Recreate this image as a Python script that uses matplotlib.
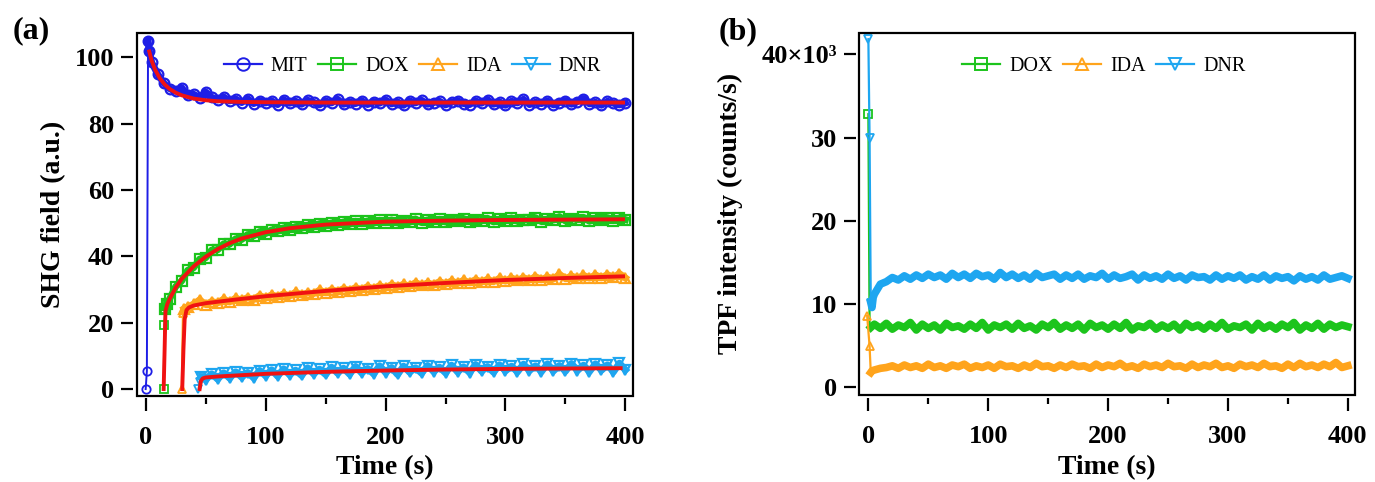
"""SHG field and TPF intensity time traces for MIT, DOX, IDA and DNR."""

import matplotlib

matplotlib.use("Agg")
import matplotlib.pyplot as plt
from matplotlib.lines import Line2D
from matplotlib.patches import Rectangle

plt.rcParams["font.family"] = ["Liberation Serif", "DejaVu Serif"]

# ---------------- panel (a): SHG field (a.u.) ----------------
mit_t = [0, 1, 2, 3] + list(range(5, 401, 5))
mit_y = [0, 5.5, 105.0, 102.0,
         98.5, 95.0, 92.3, 90.6, 89.8, 90.9, 88.6, 88.9, 87.9, 89.6,
         88.0, 87.2, 88.1, 86.9, 87.5, 86.4, 87.6, 86.1, 87.0, 86.3,
         86.9, 85.8, 87.3, 86.2, 86.8, 85.9, 87.1, 86.5, 85.7, 86.9,
         86.3, 87.4, 85.9, 86.6, 86.1, 87.0, 85.8, 86.7, 86.2, 87.2,
         86.0, 86.6, 85.6, 86.9, 86.3, 87.1, 85.9, 86.4, 86.8, 85.7,
         86.5, 87.0, 86.1, 85.8, 86.9, 86.2, 87.3, 85.9, 86.6, 85.6,
         86.8, 86.3, 87.4, 85.8, 86.5, 86.1, 86.9, 85.7, 86.4, 87.0,
         85.9, 86.7, 87.6, 86.0, 86.5, 85.6, 86.8, 86.2, 85.7, 86.3]
mit_fit_t = [3, 5, 8, 12, 16, 20, 25, 30, 40, 50, 60, 80, 100, 150, 200, 300, 398]
mit_fit_y = [101.8, 99.0, 96.2, 93.6, 91.8, 90.5, 89.4, 88.6, 87.6, 87.1,
             86.8, 86.6, 86.5, 86.4, 86.4, 86.4, 86.4]

dox_t = [15, 15.5, 16.5, 18] + list(range(20, 401, 5))
dox_y = [0, 19.2, 24.3, 25.8,
         27.2, 30.9, 32.6, 35.8, 36.6, 39.2, 39.6, 41.9, 42.0, 43.8,
         43.7, 45.3, 45.1, 46.6, 46.2, 47.5, 46.9, 48.0, 47.6, 48.6,
         48.1, 49.0, 48.5, 49.4, 48.9, 49.9, 49.2, 50.1, 49.5, 50.4,
         49.7, 50.6, 49.9, 50.7, 50.0, 50.9, 50.2, 51.0, 50.1, 50.8,
         50.3, 51.3, 50.2, 51.0, 50.5, 51.2, 50.4, 51.1, 50.6, 51.4,
         50.5, 51.0, 50.7, 51.5, 50.4, 51.2, 50.8, 51.6, 50.6, 51.1,
         50.9, 51.7, 50.5, 51.3, 51.0, 52.0, 50.7, 51.4, 51.1, 51.8,
         50.6, 51.5, 51.0, 51.7, 50.8, 51.6, 51.1]
dox_fit_t = [15, 15.8, 16.5, 18, 20, 25, 30, 40, 50, 60, 70, 80, 100, 120,
             150, 200, 250, 300, 398]
dox_fit_y = [0, 12.0, 23.5, 25.6, 27.2, 30.6, 33.2, 37.0, 39.9, 42.2, 44.0,
             45.4, 47.3, 48.5, 49.6, 50.5, 50.8, 51.0, 51.2]

ida_t = [30, 31, 32, 35] + list(range(40, 401, 5))
ida_y = [0, 23.0, 24.2, 24.8,
         25.6, 26.9, 25.5, 26.4, 26.0, 27.1, 26.3, 27.4, 26.8, 27.6,
         27.0, 28.2, 27.5, 28.4, 27.9, 28.7, 28.1, 29.2, 28.4, 29.0,
         28.8, 29.8, 29.1, 30.0, 29.4, 30.3, 29.7, 30.6, 30.0, 30.9,
         30.2, 31.2, 30.5, 31.5, 30.9, 31.6, 31.0, 32.1, 31.3, 32.0,
         31.5, 32.4, 31.7, 32.6, 31.9, 32.8, 32.1, 33.0, 32.3, 33.1,
         32.4, 33.4, 32.6, 33.5, 32.8, 33.6, 32.9, 33.9, 33.0, 33.8,
         33.2, 34.6, 33.3, 34.1, 33.4, 34.3, 33.5, 34.4, 33.6, 34.5,
         33.7, 34.8, 33.5]
ida_fit_t = [30.5, 31.5, 32.5, 34, 36, 40, 50, 75, 100, 150, 200, 250, 300, 350, 398]
ida_fit_y = [0, 12.0, 21.0, 23.8, 24.6, 25.2, 25.9, 27.0, 28.0, 29.6, 31.0,
             32.0, 32.9, 33.5, 34.0]

dnr_t = [44, 45, 46] + list(range(50, 401, 5))
dnr_y = [0, 2.2, 3.5,
         2.8, 4.6, 3.0, 4.9, 3.3, 5.2, 3.6, 5.0, 3.4, 5.6,
         4.0, 5.8, 3.9, 6.1, 4.3, 5.7, 4.1, 6.4, 4.6, 6.0,
         4.4, 6.6, 4.8, 6.3, 4.5, 6.8, 4.9, 6.2, 4.6, 7.0,
         5.0, 6.5, 4.4, 6.9, 5.1, 6.4, 4.8, 7.1, 5.3, 6.6,
         4.9, 7.2, 5.2, 6.7, 5.0, 7.4, 5.4, 6.8, 5.1, 7.3,
         5.5, 6.9, 5.2, 7.5, 5.6, 7.0, 5.3, 7.6, 5.5, 7.1,
         5.4, 7.7, 5.6, 7.2, 5.3, 7.6, 5.7, 7.3, 5.2, 7.8,
         5.8]
dnr_fit_t = [45, 46, 47.5, 50, 60, 80, 100, 150, 200, 250, 300, 350, 396]
dnr_fit_y = [0, 2.4, 3.2, 3.5, 3.8, 4.2, 4.6, 5.2, 5.6, 5.9, 6.1, 6.2, 6.3]

# ---------------- panel (b): TPF intensity (x10^3 counts/s) ----------------
tpf_dox_t = [0, 1, 2] + list(range(5, 401, 5))
tpf_dox_y = [32.8, 7.8, 7.2,
             7.6, 7.1, 7.7, 7.0, 7.5, 7.2, 7.8, 6.9, 7.6, 7.1,
             7.5, 6.9, 7.7, 7.2, 7.4, 7.0, 7.6, 7.1, 7.8, 6.9,
             7.5, 7.2, 7.6, 7.0, 7.7, 7.1, 7.4, 6.9, 7.6, 7.2,
             7.8, 7.0, 7.5, 7.1, 7.6, 6.9, 7.7, 7.2, 7.5, 7.0,
             7.6, 7.1, 7.8, 6.9, 7.4, 7.2, 7.7, 7.0, 7.5, 7.1,
             7.6, 6.9, 7.7, 7.2, 7.5, 7.0, 7.6, 7.1, 7.8, 7.0,
             7.4, 7.2, 7.6, 6.9, 7.7, 7.1, 7.5, 7.0, 7.6, 7.2,
             7.8, 6.9, 7.5, 7.1, 7.7, 7.0, 7.6, 7.2, 7.5, 7.3]

tpf_ida_t = [-1, 1, 2, 3] + list(range(5, 401, 5))
tpf_ida_y = [8.6, 5.0, 1.8, 2.0,
             2.1, 2.3, 2.4, 2.6, 2.3, 2.7, 2.4, 2.6, 2.3, 2.8,
             2.4, 2.6, 2.3, 2.7, 2.5, 2.8, 2.3, 2.6, 2.4, 2.7,
             2.3, 2.8, 2.5, 2.6, 2.3, 2.7, 2.4, 2.9, 2.5, 2.6,
             2.3, 2.7, 2.4, 2.8, 2.5, 2.6, 2.3, 2.8, 2.4, 2.7,
             2.5, 2.9, 2.4, 2.6, 2.3, 2.8, 2.5, 2.7, 2.4, 2.9,
             2.5, 2.6, 2.3, 2.8, 2.4, 2.7, 2.5, 2.9, 2.4, 2.6,
             2.3, 2.8, 2.5, 2.7, 2.4, 2.9, 2.5, 2.6, 2.3, 2.8,
             2.4, 2.9, 2.5, 2.7, 2.4, 2.8, 2.5, 3.0, 2.4, 2.6]

tpf_dnr_t = [0, 1, 2, 3, 4] + list(range(5, 401, 5))
tpf_dnr_y = [41.8, 30.0, 10.2, 9.6, 10.8,
             11.2, 12.4, 12.7, 13.2, 12.9, 13.4, 13.0, 13.5, 13.1, 13.6,
             13.2, 13.5, 13.0, 13.7, 13.2, 13.6, 13.1, 13.7, 13.3, 13.5,
             13.0, 13.8, 13.2, 13.6, 13.1, 13.5, 13.0, 13.7, 13.2, 13.4,
             13.6, 13.0, 13.5, 13.1, 13.6, 13.0, 13.4, 13.2, 13.7, 13.0,
             13.5, 13.1, 13.3, 13.6, 12.9, 13.5, 13.1, 13.4, 13.0, 13.6,
             13.1, 13.4, 12.9, 13.5, 13.2, 13.3, 12.9, 13.5, 13.0, 13.4,
             13.1, 13.5, 12.9, 13.3, 13.0, 13.5, 12.9, 13.4, 13.1, 13.3,
             12.8, 13.4, 13.0, 13.3, 12.9, 13.5, 13.0, 13.2, 13.4, 13.1]

BLUE = "#1e1ee6"
GREEN = "#1cc41c"
ORANGE = "#ffa41c"
SKY = "#1ea6f0"
RED = "#f01212"

TICK_FS = 19
LABEL_FS = 20
LEGEND_FS = 14.5


def style_axes(ax):
    # Igor-like frame: ticks stand off from a closed box
    for side in ("top", "right", "left", "bottom"):
        ax.spines[side].set_visible(False)
    ax.spines["left"].set_position(("outward", 2.5))
    ax.spines["bottom"].set_position(("outward", 2))
    ax.add_patch(Rectangle((0, 0), 1, 1, transform=ax.transAxes, fill=False,
                           lw=1.6, color="black", clip_on=False, zorder=20))
    ax.set_xticks([0, 100, 200, 300, 400])
    ax.set_xticks([50, 150, 250, 350], minor=True)
    ax.tick_params(axis="x", which="major", direction="out", length=9.5,
                   width=1.6, pad=10, labelsize=TICK_FS)
    ax.tick_params(axis="x", which="minor", direction="out", length=4, width=1.6)
    ax.tick_params(axis="y", which="major", direction="out", length=8.5,
                   width=1.6, pad=5, labelsize=TICK_FS)
    ax.tick_params(axis="y", which="minor", length=0)
    for lab in ax.get_xticklabels() + ax.get_yticklabels():
        lab.set_fontweight("bold")
    ax.set_xlim(-7.5, 406)
    ax.set_xlabel("Time (s)", fontsize=LABEL_FS, fontweight="bold", labelpad=5)


def proxy(color, marker):
    return Line2D([], [], color=color, lw=1.6, marker=marker, ms=9,
                  mfc="none", mew=1.4)


fig = plt.figure(figsize=(13.75, 4.82), dpi=100)
ax_a = fig.add_axes([0.0994, 0.179, 0.3607, 0.752])
ax_b = fig.add_axes([0.625, 0.1805, 0.3605, 0.752])

# ---- (a)
series_a = [
    ("MIT", mit_t, mit_y, mit_fit_t, mit_fit_y, BLUE, "o"),
    ("DOX", dox_t, dox_y, dox_fit_t, dox_fit_y, GREEN, "s"),
    ("IDA", ida_t, ida_y, ida_fit_t, ida_fit_y, ORANGE, "^"),
    ("DNR", dnr_t, dnr_y, dnr_fit_t, dnr_fit_y, SKY, "v"),
]
for name, t, y, ft, fy, color, marker in series_a:
    # thin line for the jump-in points, thick band for the noisy trace
    ax_a.plot(t[:4], y[:4], color=color, lw=1.4, marker=marker, ms=6,
              mfc="none", mew=1.3, zorder=3)
    ax_a.plot(t[2:], y[2:], color=color, lw=5.0, marker=marker, ms=7,
              mfc="none", mew=1.6, zorder=3)
    ax_a.plot(ft, fy, color=RED, lw=2.8, zorder=5)

style_axes(ax_a)
ax_a.set_ylim(-2, 107.3)
ax_a.set_yticks([0, 20, 40, 60, 80, 100])
for lab in ax_a.get_yticklabels():
    lab.set_fontweight("bold")
ax_a.set_ylabel("SHG field (a.u.)", fontsize=LABEL_FS, fontweight="bold",
                labelpad=6)
ax_a.legend([proxy(c, m) for _, _, _, _, _, c, m in series_a],
            [s[0] for s in series_a], loc="center",
            bbox_to_anchor=(0.556, 0.908), ncol=4, frameon=False,
            fontsize=LEGEND_FS, handlelength=1.9, handletextpad=0.45,
            columnspacing=0.5, borderpad=0)

# ---- (b)
series_b = [
    ("DOX", tpf_dox_t, tpf_dox_y, GREEN, "s", [0]),
    ("IDA", tpf_ida_t, tpf_ida_y, ORANGE, "^", [0, 1]),
    ("DNR", tpf_dnr_t, tpf_dnr_y, SKY, "v", [0, 1, 2]),
]
for name, t, y, color, marker, every in series_b:
    ax_b.plot(t[:3], y[:3], color=color, lw=1.6, marker=marker, ms=6,
              mfc="none", mew=1.3, markevery=every, zorder=3)
    ax_b.plot(t[2:], y[2:], color=color, lw=5.5, zorder=3)

style_axes(ax_b)
ax_b.set_ylim(-0.9, 42.6)
ax_b.set_yticks([0, 10, 20, 30, 40])
ax_b.set_yticklabels(["0", "10", "20", "30", "40×10³"])
for lab in ax_b.get_yticklabels():
    lab.set_fontweight("bold")
ax_b.get_yticklabels()[-1].set_fontsize(19)
ax_b.set_ylabel("TPF intensity (counts/s)", fontsize=LABEL_FS,
                fontweight="bold", labelpad=13)
ax_b.legend([proxy(c, m) for _, _, _, c, m, _ in series_b],
            [s[0] for s in series_b], loc="center",
            bbox_to_anchor=(0.493, 0.906), ncol=3, frameon=False,
            fontsize=LEGEND_FS, handlelength=1.9, handletextpad=0.45,
            columnspacing=0.5, borderpad=0)

fig.text(0.009, 0.936, "(a)", fontsize=23, fontweight="bold", va="center")
fig.text(0.523, 0.935, "(b)", fontsize=23, fontweight="bold", va="center")

fig.savefig("out.png", dpi=100)
